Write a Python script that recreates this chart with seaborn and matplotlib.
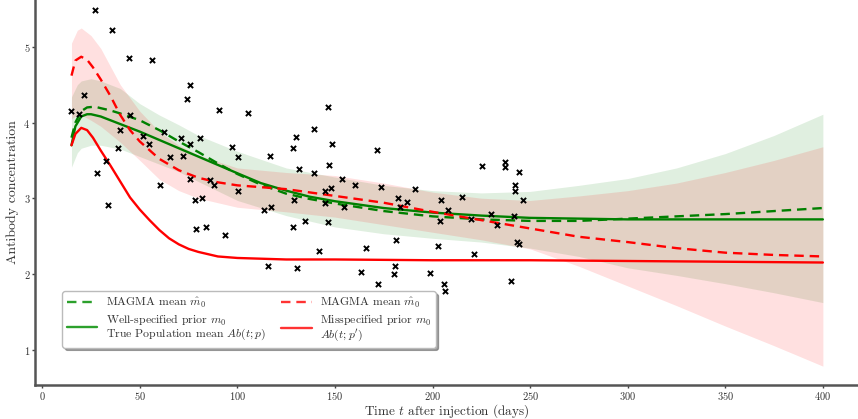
import matplotlib

matplotlib.use("Agg")
import matplotlib.pyplot as plt
import seaborn as sns
from matplotlib.lines import Line2D

# Observed antibody values (days, concentration)
obs_t = [26.8, 36.0, 44.7, 56.4, 75.9, 74.4, 90.8, 21.3, 15.0, 18.8, 44.9, 40.1,
         62.6, 71.3, 80.7, 75.9, 54.8, 51.7, 38.6, 72.0, 65.7, 97.1, 100.2, 32.9,
         28.3, 33.8, 60.3, 75.9, 86.2, 87.9, 100.2, 78.3, 82.0, 79.0, 83.8, 93.9,
         105.6, 146.3, 139.3, 129.9, 128.4, 148.6, 171.3, 116.7, 131.6, 139.3, 147.1,
         153.4, 160.4, 173.7, 191.0, 147.8, 144.7, 129.2, 145.0, 154.8, 117.4, 113.5,
         182.3, 187.1, 183.3, 204.1, 208.0, 204.0, 134.7, 146.3, 128.4, 181.4, 165.9,
         141.7, 202.6, 115.9, 130.7, 181.0, 180.1, 163.3, 198.7, 172.0, 205.8, 206.5,
         225.3, 236.9, 236.9, 244.4, 242.1, 242.1, 215.0, 246.3, 229.9, 241.7, 219.8,
         233.1, 243.4, 244.1, 221.3, 240.1]
obs_y = [5.49, 5.23, 4.85, 4.83, 4.49, 4.31, 4.17, 4.37, 4.15, 4.11, 4.10, 3.90,
         3.87, 3.79, 3.79, 3.71, 3.72, 3.82, 3.66, 3.56, 3.54, 3.68, 3.54, 3.49,
         3.33, 2.91, 3.18, 3.25, 3.24, 3.18, 3.09, 2.97, 3.00, 2.59, 2.62, 2.52,
         4.12, 4.21, 3.91, 3.81, 3.66, 3.72, 3.64, 3.56, 3.38, 3.33, 3.44,
         3.25, 3.17, 3.15, 3.12, 3.13, 3.09, 2.98, 2.93, 2.89, 2.89, 2.84,
         3.00, 2.95, 2.89, 2.98, 2.84, 2.70, 2.70, 2.69, 2.62, 2.45, 2.34,
         2.30, 2.37, 2.10, 2.08, 2.10, 2.00, 2.02, 2.01, 1.86, 1.86, 1.77,
         3.42, 3.48, 3.41, 3.34, 3.17, 3.09, 3.01, 2.97, 2.79, 2.77, 2.72,
         2.64, 2.42, 2.39, 2.26, 1.91]

# True population mean / well-specified prior
true_t = [15, 17, 20, 23, 25, 30, 35, 40, 50, 60, 70, 80, 90, 100, 112, 125, 137,
          150, 175, 200, 225, 250, 275, 300, 350, 400]
true_y = [3.70, 3.95, 4.08, 4.11, 4.11, 4.08, 4.03, 3.98, 3.88, 3.77, 3.66, 3.55,
          3.44, 3.33, 3.20, 3.10, 3.02, 2.96, 2.87, 2.81, 2.77, 2.74, 2.73, 2.72,
          2.72, 2.72]

# MAGMA mean with well-specified prior
magma_g_t = [15, 17, 20, 23, 27, 30, 35, 40, 50, 60, 70, 80, 90, 100, 112, 125, 137,
             150, 175, 200, 225, 250, 275, 300, 325, 350, 375, 400]
magma_g_y = [3.80, 4.00, 4.15, 4.20, 4.21, 4.19, 4.16, 4.12, 4.03, 3.90, 3.75, 3.61,
             3.46, 3.32, 3.18, 3.06, 2.99, 2.93, 2.83, 2.76, 2.72, 2.70, 2.70, 2.73,
             2.76, 2.79, 2.83, 2.87]

# MAGMA credible band, well-specified prior
band_g_t = [15, 18, 20, 25, 30, 40, 50, 60, 70, 80, 100, 125, 150, 175, 200, 225,
            250, 275, 300, 325, 350, 375, 400]
band_g_hi = [4.34, 4.50, 4.55, 4.58, 4.55, 4.45, 4.25, 4.10, 3.97, 3.83, 3.62, 3.40,
             3.28, 3.17, 3.10, 3.07, 3.09, 3.17, 3.26, 3.40, 3.59, 3.83, 4.11]
band_g_lo = [3.41, 3.60, 3.66, 3.70, 3.70, 3.65, 3.55, 3.45, 3.35, 3.22, 2.97, 2.77,
             2.62, 2.53, 2.47, 2.42, 2.34, 2.23, 2.08, 1.98, 1.87, 1.75, 1.62]

# Misspecified prior
miss_t = [15, 17, 20, 23, 26, 30, 35, 40, 45, 50, 55, 60, 65, 70, 75, 80, 90, 100,
          125, 150, 200, 250, 300, 350, 400]
miss_y = [3.70, 3.85, 3.93, 3.90, 3.80, 3.63, 3.43, 3.22, 3.01, 2.85, 2.71, 2.58,
          2.47, 2.39, 2.33, 2.29, 2.23, 2.21, 2.19, 2.19, 2.18, 2.18, 2.17, 2.16, 2.15]

# MAGMA mean with misspecified prior
magma_r_t = [15, 17, 20, 23, 26, 30, 35, 40, 45, 50, 60, 70, 80, 90, 100, 125, 150,
             175, 200, 225, 250, 275, 300, 325, 350, 375, 400]
magma_r_y = [4.62, 4.82, 4.87, 4.83, 4.73, 4.57, 4.35, 4.10, 3.90, 3.75, 3.52, 3.37,
             3.27, 3.21, 3.17, 3.12, 3.03, 2.94, 2.82, 2.71, 2.60, 2.49, 2.42, 2.34,
             2.28, 2.25, 2.23]

# MAGMA credible band, misspecified prior
band_r_t = [15, 18, 20, 25, 30, 40, 50, 60, 70, 80, 100, 125, 150, 175, 200, 225,
            250, 275, 300, 325, 350, 375, 400]
band_r_hi = [5.05, 5.22, 5.25, 5.15, 4.98, 4.50, 4.15, 3.88, 3.70, 3.57, 3.40, 3.34,
             3.30, 3.20, 3.08, 3.00, 2.97, 3.03, 3.10, 3.20, 3.34, 3.50, 3.68]
band_r_lo = [4.05, 4.10, 4.10, 4.03, 3.95, 3.74, 3.50, 3.25, 3.10, 3.00, 2.88, 2.82,
             2.75, 2.65, 2.55, 2.45, 2.33, 2.10, 1.84, 1.58, 1.31, 1.05, 0.78]

x_ticks = [0, 50, 100, 150, 200, 250, 300, 350, 400]
y_ticks = [1, 2, 3, 4, 5]

sns.set_theme(style="white")
plt.rcParams["font.family"] = ["cmr10", "DejaVu Serif"]
plt.rcParams["mathtext.fontset"] = "cm"
plt.rcParams["axes.formatter.use_mathtext"] = True
plt.rcParams["axes.unicode_minus"] = False

DASH = (0, (4, 2.5))

fig = plt.figure(figsize=(8.58, 4.19), dpi=100)
ax = fig.add_axes([0.041, 0.081, 0.959, 0.919])

ax.fill_between(band_g_t, band_g_lo, band_g_hi, color="green", alpha=0.12, linewidth=0)
ax.fill_between(band_r_t, band_r_lo, band_r_hi, color="red", alpha=0.12, linewidth=0)

sns.lineplot(x=true_t, y=true_y, ax=ax, color="green", linewidth=1.7)
sns.lineplot(x=magma_g_t, y=magma_g_y, ax=ax, color="green", linewidth=1.7, linestyle=DASH)
sns.lineplot(x=miss_t, y=miss_y, ax=ax, color="red", linewidth=1.7)
sns.lineplot(x=magma_r_t, y=magma_r_y, ax=ax, color="red", linewidth=1.7, linestyle=DASH)

sns.scatterplot(x=obs_t, y=obs_y, ax=ax, marker="x", color="black", s=14,
                linewidth=1.4, zorder=5)

ax.set_xlim(-3.6, 418)
ax.set_ylim(0.53, 5.62)
ax.set_xticks(x_ticks)
ax.set_yticks(y_ticks)
ax.tick_params(axis="both", labelsize=7.5, length=2.5, width=1, direction="out",
               colors="#444444", labelcolor="#333333", pad=1)
ax.tick_params(axis="both", bottom=True, left=True)
for side in ["top", "right"]:
    ax.spines[side].set_visible(False)
for side in ["left", "bottom"]:
    ax.spines[side].set_color("#555555")
    ax.spines[side].set_linewidth(1.8)

ax.set_xlabel("Time $t$ after injection (days)", fontsize=9.5, color="#333333", labelpad=0)
ax.set_ylabel("Antibody concentration", fontsize=10, color="#333333", labelpad=3)

handles = [
    Line2D([], [], color="#2ca02c", linestyle=DASH, linewidth=1.7),
    Line2D([], [], color="#2ca02c", linewidth=1.7),
    Line2D([], [], color="#ff3333", linestyle=DASH, linewidth=1.7),
    Line2D([], [], color="#ff3333", linewidth=1.7),
]
labels = [
    r"MAGMA mean $\hat{m}_0$",
    "Well-specified prior $m_0$\nTrue Population mean $Ab(t;p)$",
    r"MAGMA mean $\hat{m}_0$",
    "Misspecified prior $m_0$\n$Ab(t;p')$",
]
leg = ax.legend(handles, labels, ncol=2, loc="lower left",
                bbox_to_anchor=(0.026, 0.082), fontsize=8.5, frameon=True,
                shadow=True, fancybox=True, framealpha=1, edgecolor="#bbbbbb",
                handlelength=2.6, handletextpad=0.7, columnspacing=1.3,
                labelspacing=0.25, borderpad=0.35)
for txt in leg.get_texts():
    txt.set_color("#333333")
    txt.set_linespacing(0.95)

fig.savefig("out.png", dpi=100)
